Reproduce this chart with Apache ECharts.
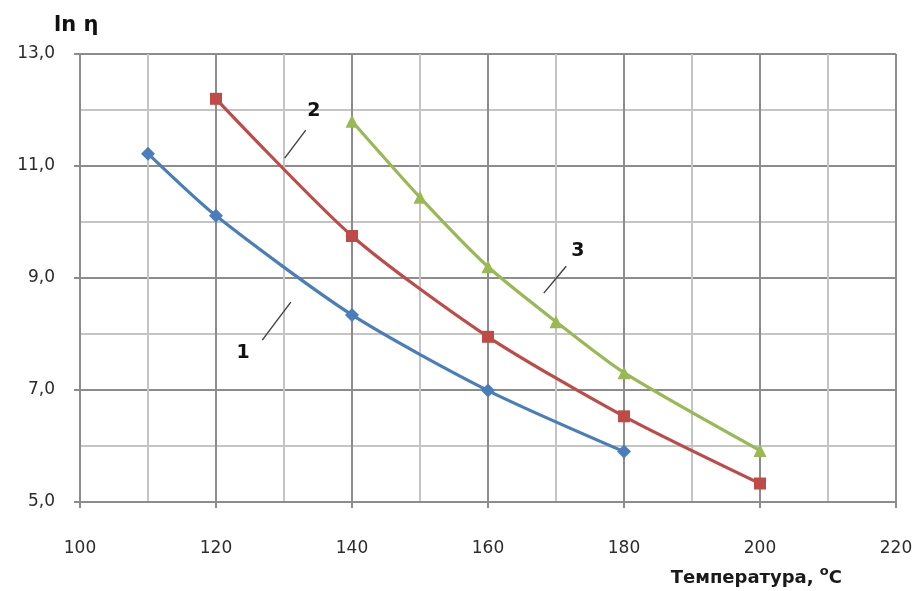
<!DOCTYPE html>
<html>
<head>
<meta charset="utf-8">
<script src="https://cdn.jsdelivr.net/npm/echarts@6/dist/echarts.min.js"></script>
<style>
  html, body { margin: 0; padding: 0; background: #fff; }
  #chart { width: 919px; height: 591px; }
</style>
</head>
<body>
<div id="chart"></div>
<script>
// Temperature, °C
const temps1 = [110, 120, 140, 160, 180];
const temps2 = [120, 140, 160, 180, 200];
const temps3 = [140, 150, 160, 170, 180, 200];
// ln of viscosity for each curve
const lnEta1 = [11.22, 10.11, 8.34, 6.99, 5.90];
const lnEta2 = [12.20, 9.75, 7.95, 6.53, 5.33];
const lnEta3 = [11.80, 10.44, 9.20, 8.22, 7.31, 5.92];
// Curve labels with their leader lines (data units): label point, line start, line end
const curveNames = ['1', '2', '3'];
const labelAt = [[124.0, 7.66], [134.4, 11.98], [173.2, 9.48]];
const leaderFrom = [[126.8, 7.89], [130.1, 11.14], [168.2, 8.73]];
const leaderTo = [[131.0, 8.57], [133.2, 11.64], [171.5, 9.21]];

const colors = ['#4a7ebb', '#be4b48', '#98b954'];
const symbols = ['diamond', 'rect', 'triangle'];
const symbolSizes = [14, 12, 13];

const zip = (xs, ys) => xs.map((x, i) => [x, ys[i]]);
const curves = [zip(temps1, lnEta1), zip(temps2, lnEta2), zip(temps3, lnEta3)];

const comma = v => v.toFixed(1).replace('.', ',');

const series = curves.map((data, i) => ({
  type: 'line',
  data: data,
  smooth: 0.25,
  symbol: symbols[i],
  symbolSize: symbolSizes[i],
  showAllSymbol: true,
  lineStyle: { color: colors[i], width: 3.2 },
  itemStyle: { color: colors[i] },
  z: 3,
  markLine: {
    silent: true,
    symbol: ['none', 'none'],
    label: { show: false },
    lineStyle: { color: '#404040', width: 1.4, type: 'solid' },
    data: [[{ coord: leaderFrom[i] }, { coord: leaderTo[i] }]]
  },
  markPoint: {
    silent: true,
    symbol: 'circle',
    symbolSize: 1,
    itemStyle: { color: 'rgba(0,0,0,0)' },
    label: {
      show: true,
      formatter: curveNames[i],
      color: '#111',
      fontFamily: 'DejaVu Sans',
      fontWeight: 'bold',
      fontSize: 19
    },
    data: [{ coord: labelAt[i] }]
  }
}));

const chart = echarts.init(document.getElementById('chart'));
chart.setOption({
  animation: false,
  backgroundColor: '#fff',
  grid: { left: 80, right: 23, top: 54, bottom: 89, containLabel: false },
  title: {
    text: 'ln η',
    left: 49,
    top: 10,
    textStyle: { fontFamily: 'DejaVu Sans', fontWeight: 'bold', fontSize: 21, color: '#111' }
  },
  xAxis: {
    type: 'value',
    min: 100,
    max: 220,
    interval: 20,
    name: '{t|Температура, }{s|o}{t|C}',
    nameLocation: 'end',
    nameGap: 0,
    nameTextStyle: {
      align: 'right',
      verticalAlign: 'top',
      padding: [63, 54, 0, 0],
      rich: {
        t: { fontFamily: 'DejaVu Sans', fontWeight: 'bold', fontSize: 18, color: '#1a1a1a', verticalAlign: 'bottom' },
        s: { fontFamily: 'DejaVu Sans', fontWeight: 'bold', fontSize: 13, color: '#1a1a1a', verticalAlign: 'top', padding: [0, 0, 9, 0] }
      }
    },
    axisLine: { show: true, onZero: false, lineStyle: { color: '#8c8c8c', width: 2 } },
    axisTick: { show: true, length: 6, lineStyle: { color: '#8c8c8c', width: 2 } },
    minorTick: { show: false, splitNumber: 2 },
    axisLabel: { margin: 38, fontFamily: 'DejaVu Sans', fontSize: 17, color: '#2b2b2b' },
    splitLine: { show: true, lineStyle: { color: '#8c8c8c', width: 2 } },
    minorSplitLine: { show: true, lineStyle: { color: '#c4c4c4', width: 2 } }
  },
  yAxis: {
    type: 'value',
    min: 5,
    max: 13,
    interval: 2,
    axisLine: { show: true, onZero: false, lineStyle: { color: '#8c8c8c', width: 2 } },
    axisTick: { show: true, length: 6, lineStyle: { color: '#8c8c8c', width: 2 } },
    minorTick: { show: false, splitNumber: 2 },
    axisLabel: { margin: 25, fontFamily: 'DejaVu Sans', fontSize: 17, color: '#2b2b2b', formatter: comma },
    splitLine: { show: true, lineStyle: { color: '#8c8c8c', width: 2 } },
    minorSplitLine: { show: true, lineStyle: { color: '#c4c4c4', width: 2 } }
  },
  series: series
});
</script>
</body>
</html>
